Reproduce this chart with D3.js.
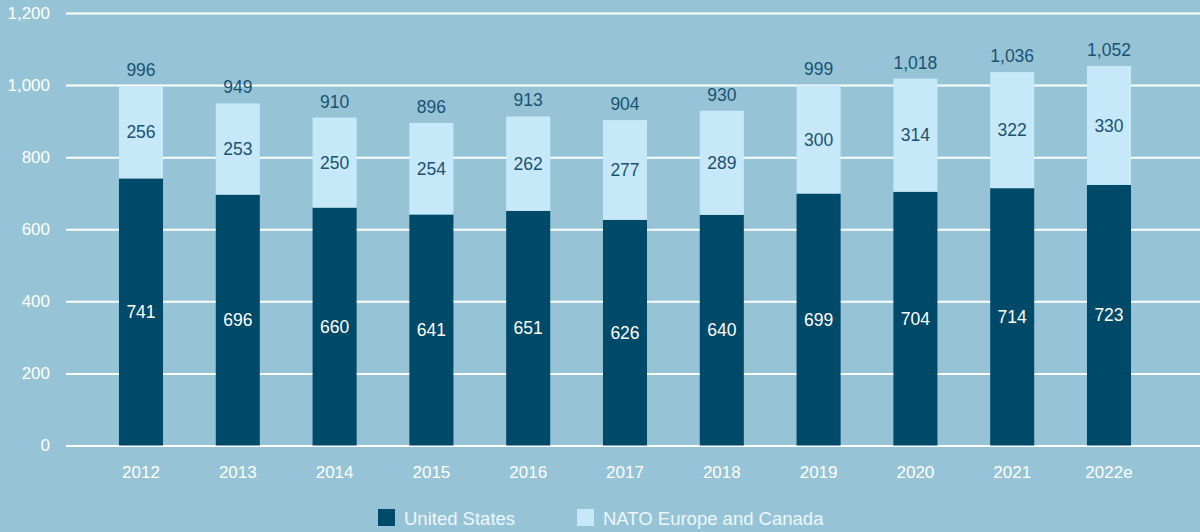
<!DOCTYPE html>
<html>
<head>
<meta charset="utf-8">
<script src="https://cdn.jsdelivr.net/npm/d3@7"></script>
<style>
  html, body { margin: 0; padding: 0; background: #96c4d6; }
  svg { display: block; font-family: "Liberation Sans", Arial, sans-serif; }
</style>
</head>
<body>
<svg id="chart" width="1200" height="532"></svg>
<script>
// Defence expenditure, USD billion
const years = ["2012", "2013", "2014", "2015", "2016", "2017", "2018", "2019", "2020", "2021", "2022e"];
const unitedStates = [741, 696, 660, 641, 651, 626, 640, 699, 704, 714, 723];
const europeCanada = [256, 253, 250, 254, 262, 277, 289, 300, 314, 322, 330];
const totals = [996, 949, 910, 896, 913, 904, 930, 999, 1018, 1036, 1052];
const yTicks = [0, 200, 400, 600, 800, 1000, 1200];
const seriesNames = ["United States", "NATO Europe and Canada"];

const colors = { us: "#004a69", eu: "#c7e8f8", bg: "#96c4d6", grid: "#ffffff", darkText: "#1a5272" };

const svg = d3.select("#chart");
const W = 1200, H = 532;
svg.append("rect").attr("width", W).attr("height", H).attr("fill", colors.bg);

const x = d3.scaleBand()
  .domain(years)
  .range([92.6, 1157.4])
  .paddingInner(0.545)
  .paddingOuter(0.2725);

const y = d3.scaleLinear().domain([0, 1200]).range([445.5, 13]);

// Horizontal grid lines and y tick labels
const yAxis = d3.axisLeft(y)
  .tickValues(yTicks)
  .tickSize(-(W - 66))
  .tickPadding(16)
  .tickFormat(d3.format(","));

const gy = svg.append("g").attr("transform", "translate(66,0)").call(yAxis);
gy.select(".domain").remove();
gy.selectAll(".tick line").attr("stroke", colors.grid).attr("stroke-width", 2);
gy.selectAll(".tick text")
  .attr("fill", "#ffffff")
  .attr("font-size", 17)
  .attr("font-family", "Liberation Sans, Arial, sans-serif");

// Category labels
const xAxis = d3.axisBottom(x).tickSize(0).tickPadding(0);
const gx = svg.append("g").attr("transform", "translate(0,462)").call(xAxis);
gx.select(".domain").remove();
gx.selectAll(".tick text")
  .attr("fill", "#ffffff")
  .attr("font-size", 17)
  .attr("dy", "0.95em")
  .attr("font-family", "Liberation Sans, Arial, sans-serif");

// Stacked bars
const rows = years.map((yr, i) => ({ year: yr, us: unitedStates[i], eu: europeCanada[i], total: totals[i] }));
const stack = d3.stack().keys(["us", "eu"])(rows);
const fills = { us: colors.us, eu: colors.eu };

const layers = svg.append("g").selectAll("g")
  .data(stack)
  .join("g")
  .attr("fill", d => fills[d.key]);

layers.selectAll("rect")
  .data(d => d)
  .join("rect")
  .attr("x", d => x(d.data.year))
  .attr("width", x.bandwidth())
  .attr("y", d => y(d[1]))
  .attr("height", d => y(d[0]) - y(d[1]));

// Segment value labels
const labelColor = { us: "#ffffff", eu: colors.darkText };
const segLabels = svg.append("g").attr("font-size", 17.5).attr("text-anchor", "middle");
stack.forEach(layer => {
  segLabels.selectAll(null)
    .data(layer)
    .join("text")
    .attr("x", d => x(d.data.year) + x.bandwidth() / 2)
    .attr("y", d => y((d[0] + d[1]) / 2))
    .attr("dy", "0.35em")
    .attr("fill", labelColor[layer.key])
    .text(d => d3.format(",")(d.data[layer.key]));
});

// Totals above each bar
svg.append("g").attr("font-size", 17.5).attr("text-anchor", "middle")
  .selectAll("text")
  .data(stack[1])
  .join("text")
  .attr("x", d => x(d.data.year) + x.bandwidth() / 2)
  .attr("y", d => y(d[1]) - 10)
  .attr("fill", colors.darkText)
  .text(d => d3.format(",")(d.data.total));

// Legend
const legendItems = [
  { name: seriesNames[0], color: colors.us, x: 378 },
  { name: seriesNames[1], color: colors.eu, x: 577 }
];
const lg = svg.append("g");
const li = lg.selectAll("g").data(legendItems).join("g")
  .attr("transform", d => `translate(${d.x},509)`);
li.append("rect").attr("width", 17).attr("height", 17).attr("fill", d => d.color);
li.append("text")
  .attr("x", 26)
  .attr("y", 15.5)
  .attr("font-size", 18.5)
  .attr("fill", "#eef6fa")
  .text(d => d.name);
</script>
</body>
</html>
